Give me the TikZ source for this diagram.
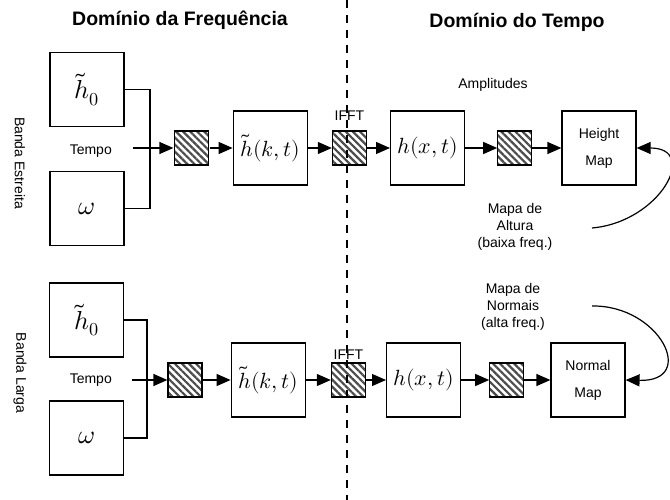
\documentclass[tikz,border=0pt]{standalone}
\usepackage{fontspec}
\usepackage{unicode-math}
\setmainfont{Liberation Sans}
\setmathfont{Latin Modern Math}
\usetikzlibrary{positioning}
\usetikzlibrary{arrows.meta}
\usetikzlibrary{patterns.meta}
\newcommand{\Hzero}{\tilde{h}_0}
\newcommand{\Hkt}{\tilde{h}(k,t)}
\newcommand{\Hxt}{h(x,t)}
\tikzstyle{blk} = [rectangle,draw=black,line width=1.2pt,minimum size=74pt,inner sep=0pt,font=\fontsize{22}{22}\selectfont]
\tikzstyle{txt} = [inner sep=0pt,align=center,font=\fontsize{14}{17}\selectfont]

\begin{document}
\begin{tikzpicture}[x=1pt,y=-1pt,
  hatch/.style={rectangle,draw=black,line width=1.2pt,minimum size=34pt,inner sep=0pt,
    pattern={Lines[angle=-45,distance=5pt,line width=2.2pt]},pattern color=black!70},
  flow/.style={line width=1.2pt,-{Triangle[length=14pt,width=12pt]}},
  wire/.style={line width=1.2pt},
  big/.style={font=\fontsize{26}{26}\selectfont},
  head/.style={inner sep=0pt,font=\fontsize{19.5}{20}\selectfont\bfseries}]
\useasboundingbox (0,0) rectangle (670,500);

% Titles
\node[head] (tf) at (180,20) {Domínio da Frequência};
\node[head] (tt) at (517,22) {Domínio do Tempo};

% Banda Estreita
\node[txt, rotate=-90] (be) at (20,163) {Banda Estreita};
\node[blk, big] (h0a) at (87,89.5)  {$\Hzero$};
\node[blk, big] (wa)  at (87,208.5) {$\omega$};
\coordinate (ja) at (150,148);
\coordinate[left=17pt of ja] (ta0);
\node[txt, left=21pt of ta0, yshift=-3pt] (ta) {Tempo};

\node[hatch] (sa) at (191.5,148) {};
\node[blk, right=23pt of sa]   (hka) {$\Hkt$};
\node[hatch, right=24pt of hka] (fa)  {};
\node[txt, above=10pt of fa]   (la)  {IFFT};
\node[blk, right=23pt of fa]   (hxa) {$\Hxt$};
\node[hatch, right=32pt of hxa] (sa2) {};
\node[blk, right=29pt of sa2, font=\fontsize{14}{27}\selectfont, align=center] (hm) {Height\\Map};
\node[txt] (amp) at (493,85) {Amplitudes};
\node[txt] (ma) at (515,227) {Mapa de\\Altura\\(baixa freq.)};
\coordinate (ca) at (592,228);

% Banda Larga
\node[txt, rotate=-90] (bl) at (20,373) {Banda Larga};
\node[blk, big] (h0b) at (86.5,320) {$\Hzero$};
\node[blk, big] (wb)  at (86.5,438) {$\omega$};
\coordinate (jb) at (147,380);
\coordinate[left=15pt of jb] (tb0);
\node[txt, left=20pt of tb0] (tb) {Tempo};

\node[hatch] (sb) at (185,380) {};
\node[blk, right=28pt of sb]   (hkb) {$\Hkt$};
\node[hatch, right=25pt of hkb] (fb)  {};
\node[txt, above=3pt of fb]    (lb)  {IFFT};
\node[blk, right=20pt of fb]   (hxb) {$\Hxt$};
\node[hatch, right=28pt of hxb] (sb2) {};
\node[blk, right=26pt of sb2, font=\fontsize{14}{27}\selectfont, align=center] (nm) {Normal\\Map};
\node[txt] (mn) at (513,307) {Mapa de\\Normais\\(alta freq.)};
\coordinate (cb) at (592,306);

% Edges
\draw[wire] (h0a.east) -| (ja) |- (wa.east);
\draw[flow] (ta0) -- (sa);
\draw[flow] (sa) -- (hka);
\draw[flow] (hka) -- (fa);
\draw[flow] (fa) -- (hxa);
\draw[flow] (hxa) -- (sa2);
\draw[flow] (sa2) -- (hm);
\draw[flow] (ca) .. controls (660,222) and (700,148) .. (hm.east);

\draw[wire] (h0b.east) -| (jb) |- (wb.east);
\draw[flow] (tb0) -- (sb);
\draw[flow] (sb) -- (hkb);
\draw[flow] (hkb) -- (fb);
\draw[flow] (fb) -- (hxb);
\draw[flow] (hxb) -- (sb2);
\draw[flow] (sb2) -- (nm);
\draw[flow] (cb) .. controls (660,305) and (698,382) .. (nm.east);

% Divider
\coordinate (dtop) at (347,0);
\coordinate (dbot) at (347,500);
\draw[line width=1.2pt, dash pattern=on 8pt off 7pt] (dtop) -- (dbot);
\end{tikzpicture}
\end{document}
